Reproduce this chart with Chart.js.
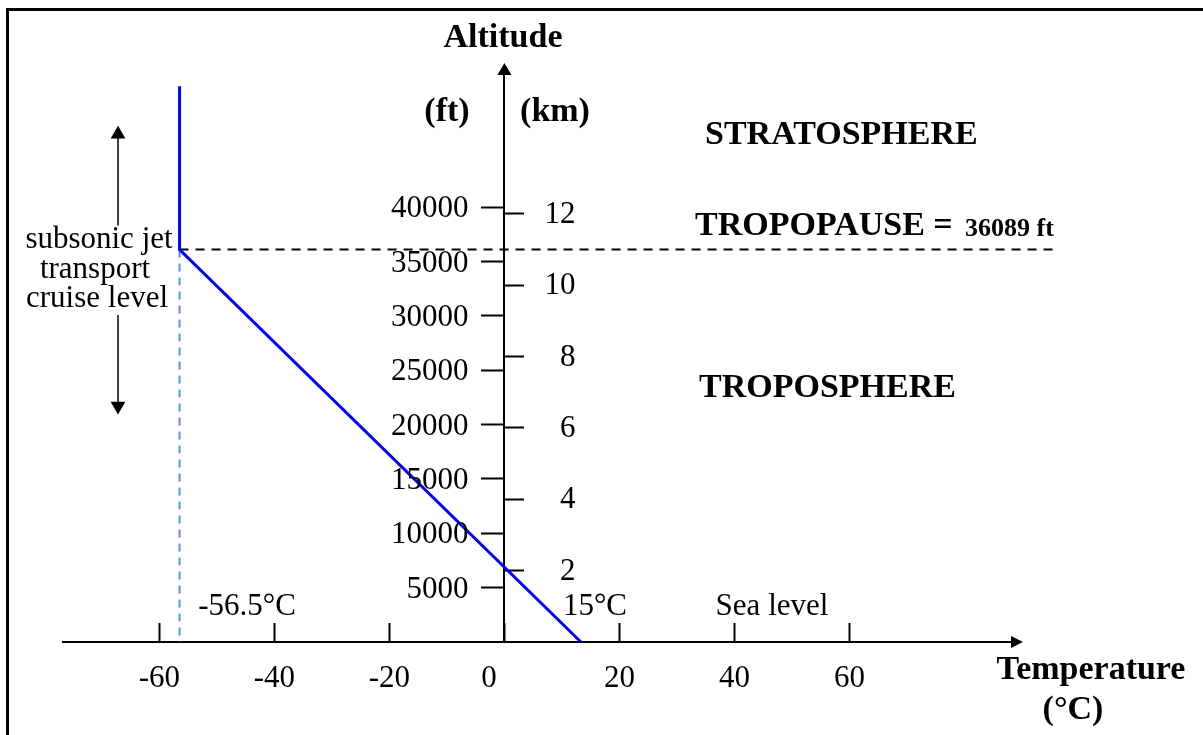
<!DOCTYPE html>
<html>
<head>
<meta charset="utf-8">
<script src="https://cdn.jsdelivr.net/npm/chart.js@4.4.1/dist/chart.umd.min.js"></script>
<style>
    html, body { margin: 0; padding: 0; background: #fff; }
    #wrap { width: 1203px; height: 735px; }
</style>
</head>
<body>
<div id="wrap"><canvas id="atmChart" width="1203" height="735"></canvas></div>
<script>
// DATA

const profileTemps = [-56.5, -56.5, 13.3];     // degC
const profileAlts = [51100, 36089, 0];         // ft
const tropopauseAlt = 36089;                   // ft
const tropopauseTemp = -56.5;                  // degC
const tropopauseLineEnd = 96;                  // degC, right end of dashed line
const cruiseArrowTemp = -67.2;
const cruiseUpAlts = [38300, 46700];
const cruiseDownAlts = [30070, 21700];
const xTicks = [-60, -40, -20, 0, 20, 40, 60];
const ftTicks = [5000, 10000, 15000, 20000, 25000, 30000, 35000, 40000];
const kmTicks = [2, 4, 6, 8, 10, 12];

const FT_PER_KM = 3280.84;
const Y_MAX_FT = 52230;
const SERIF = "'Liberation Serif', 'Times New Roman', serif";

// DECORATION PLUGIN (frame, arrows, altitude labels, text)

const decorations = {
    id: 'decorations',
    beforeDraw(chart) {
        const ctx = chart.ctx;
        ctx.save();
        ctx.strokeStyle = '#000';
        ctx.lineWidth = 3;
        ctx.beginPath();
        ctx.moveTo(7.5, 735);
        ctx.lineTo(7.5, 9.5);
        ctx.lineTo(1203, 9.5);
        ctx.stroke();
        ctx.restore();
    },
    afterDraw(chart) {
        const ctx = chart.ctx;
        const area = chart.chartArea;
        const ft = chart.scales.y;
        const km = chart.scales.km;
        const x0 = chart.scales.x.getPixelForValue(0);
        const y0 = ft.getPixelForValue(0);

        ctx.save();
        ctx.fillStyle = '#000';
        // x axis arrow
        ctx.beginPath();
        ctx.moveTo(area.right + 11, y0);
        ctx.lineTo(area.right - 1, y0 - 6);
        ctx.lineTo(area.right - 1, y0 + 6);
        ctx.closePath();
        ctx.fill();
        // y axis arrow
        ctx.beginPath();
        ctx.moveTo(x0, area.top - 11);
        ctx.lineTo(x0 - 7, area.top + 1);
        ctx.lineTo(x0 + 7, area.top + 1);
        ctx.closePath();
        ctx.fill();

        // tick labels of the two altitude scales
        ctx.font = `31px ${SERIF}`;
        ctx.textBaseline = 'middle';
        ctx.textAlign = 'right';
        ft.ticks.forEach(t => ctx.fillText(String(t.value), x0 - 36, ft.getPixelForValue(t.value) + 2));
        km.ticks.forEach(t => ctx.fillText(String(t.value), x0 + 71, km.getPixelForValue(t.value) + 1));

        const texts = [
            { t: 'Altitude', x: 503, y: 38, bold: true, size: 34 },
            { t: '(ft)', x: 447, y: 112, bold: true, size: 34 },
            { t: '(km)', x: 555, y: 112, bold: true, size: 34 },
            { t: 'STRATOSPHERE', x: 705, y: 135, bold: true, size: 34, align: 'left' },
            { t: 'TROPOPAUSE =', x: 695, y: 226, bold: true, size: 34, align: 'left' },
            { t: '36089 ft', x: 965, y: 229, bold: true, size: 26, align: 'left' },
            { t: 'TROPOSPHERE', x: 699, y: 388, bold: true, size: 34, align: 'left' },
            { t: 'subsonic jet', x: 99, y: 240, size: 31 },
            { t: 'transport', x: 95, y: 270, size: 31 },
            { t: 'cruise level', x: 97, y: 299, size: 31 },
            { t: '-56.5°C', x: 247, y: 607, size: 31 },
            { t: '15°C', x: 595, y: 607, size: 31 },
            { t: 'Sea level', x: 772, y: 607, size: 31 },
            { t: 'Temperature', x: 1091, y: 670, bold: true, size: 34 },
            { t: '(°C)', x: 1073, y: 710, bold: true, size: 34 }
        ];
        texts.forEach(d => {
            ctx.font = `${d.bold ? 'bold ' : ''}${d.size}px ${SERIF}`;
            ctx.textAlign = d.align || 'center';
            ctx.fillText(d.t, d.x, d.y);
        });
        ctx.restore();
    }
};

// CHART

const ctx = document.getElementById('atmChart');

new Chart(ctx, {
    type: 'scatter',
    data: {
        datasets: [
            {
                label: 'Temperature profile',
                data: profileTemps.map((t, i) => ({ x: t, y: profileAlts[i] })),
                showLine: true,
                borderColor: '#0000ff',
                borderWidth: 3,
                pointRadius: 0,
                clip: false,
                order: 0
            },
            {
                label: 'Tropopause',
                data: [{ x: tropopauseTemp, y: tropopauseAlt }, { x: tropopauseLineEnd, y: tropopauseAlt }],
                showLine: true,
                borderColor: '#000',
                borderWidth: 2,
                borderDash: [9, 7],
                pointRadius: 0,
                clip: false,
                order: 1
            },
            {
                label: 'Cruise level',
                data: [{ x: tropopauseTemp, y: tropopauseAlt }, { x: tropopauseTemp, y: 0 }],
                showLine: true,
                borderColor: '#5b8def',
                borderWidth: 2,
                borderDash: [8, 6],
                pointRadius: 0,
                clip: false,
                order: 2
            },
            {
                label: 'up',
                data: cruiseUpAlts.map(a => ({ x: cruiseArrowTemp, y: a })),
                showLine: true,
                borderColor: '#000',
                backgroundColor: '#000',
                borderWidth: 1.5,
                pointStyle: 'triangle',
                pointRadius: [0, 7],
                pointRotation: 0,
                clip: false
            },
            {
                label: 'down',
                data: cruiseDownAlts.map(a => ({ x: cruiseArrowTemp, y: a })),
                showLine: true,
                borderColor: '#000',
                backgroundColor: '#000',
                borderWidth: 1.5,
                pointStyle: 'triangle',
                pointRadius: [0, 7],
                pointRotation: 180,
                clip: false
            }
        ]
    },
    options: {
        responsive: false,
        animation: false,
        devicePixelRatio: 1,
        layout: {
            padding: { left: 63, right: 191, top: 74, bottom: 93 }
        },
        plugins: {
            legend: { display: false },
            tooltip: { enabled: false }
        },
        scales: {
            x: {
                type: 'linear',
                min: -76.77,
                max: 88.27,
                position: { y: 0 },
                afterBuildTicks: s => { s.ticks = xTicks.map(v => ({ value: v })); },
                border: { color: '#000', width: 2 },
                grid: { drawOnChartArea: false, drawTicks: true, tickLength: -20, color: '#000', tickWidth: 2 },
                ticks: {
                    color: '#000',
                    padding: 38,
                    maxRotation: 0,
                    font: { family: SERIF, size: 31 },
                    callback: v => v === 0 ? '0    ' : String(v)
                }
            },
            y: {
                type: 'linear',
                min: 0,
                max: Y_MAX_FT,
                position: { x: 0 },
                afterBuildTicks: s => { s.ticks = ftTicks.map(v => ({ value: v })); },
                border: { color: '#000', width: 2 },
                grid: { drawOnChartArea: false, drawTicks: true, tickLength: 22, color: '#000', tickWidth: 2 },
                ticks: { display: false }
            },
            km: {
                type: 'linear',
                axis: 'y',
                min: 0,
                max: Y_MAX_FT / FT_PER_KM,
                position: { x: 0 },
                afterBuildTicks: s => { s.ticks = kmTicks.map(v => ({ value: v })); },
                border: { display: false },
                grid: { drawOnChartArea: false, drawTicks: true, tickLength: -20, color: '#000', tickWidth: 2 },
                ticks: { display: false }
            }
        }
    },
    plugins: [decorations]
});
</script>
</body>
</html>
